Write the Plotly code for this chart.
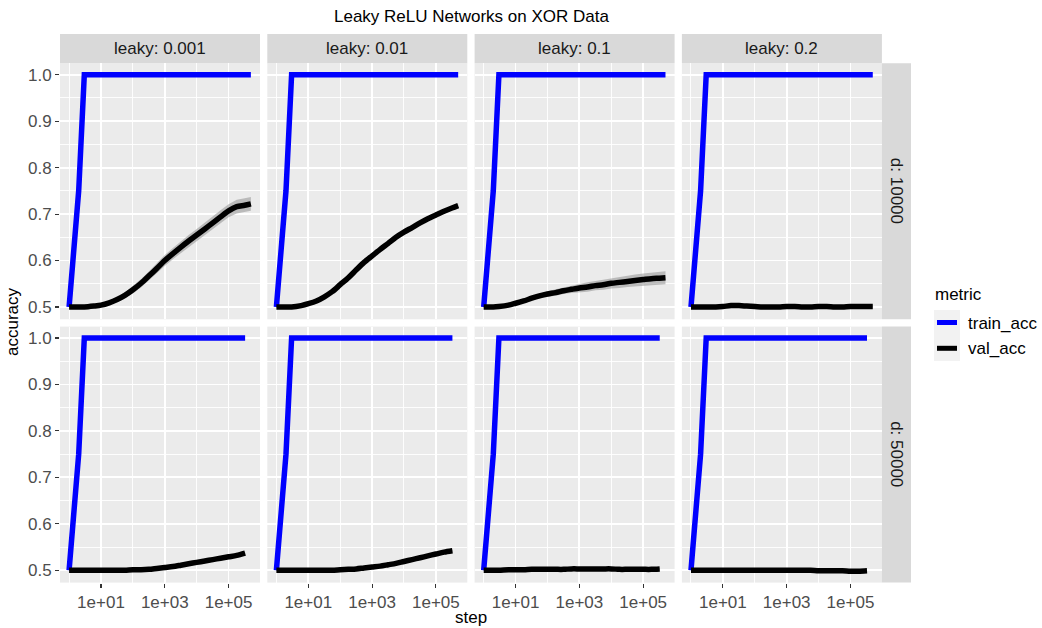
import plotly.graph_objects as go

W, H = 1042, 628

# ---------------- data ----------------
leaky_labels = ["leaky: 0.001", "leaky: 0.01", "leaky: 0.1", "leaky: 0.2"]
d_labels = ["d: 10000", "d: 50000"]
metric_labels = ["train_acc", "val_acc"]

steps_d10000 = [1, 2, 3, 6, 10, 18, 32, 56, 100, 180, 320, 560, 1000, 1800, 3200, 5600,
                10000, 18000, 32000, 56000, 100000, 180000, 320000, 500000]
steps_d50000 = [1, 2, 3, 6, 10, 18, 32, 56, 100, 180, 320, 560, 1000, 1800, 3200, 5600,
                10000, 18000, 32000, 56000, 100000, 180000, 330000]

train_acc_d10000 = [0.5, 0.75, 1.0, 1.0, 1.0, 1.0, 1.0, 1.0, 1.0, 1.0, 1.0, 1.0, 1.0,
                    1.0, 1.0, 1.0, 1.0, 1.0, 1.0, 1.0, 1.0, 1.0, 1.0, 1.0]
train_acc_d50000 = [0.5, 0.75, 1.0, 1.0, 1.0, 1.0, 1.0, 1.0, 1.0, 1.0, 1.0, 1.0, 1.0,
                    1.0, 1.0, 1.0, 1.0, 1.0, 1.0, 1.0, 1.0, 1.0, 1.0]

val_d10000_l0001 = [0.500, 0.500, 0.500, 0.502, 0.504, 0.509, 0.516, 0.525, 0.537, 0.551,
                    0.567, 0.583, 0.600, 0.615, 0.629, 0.642, 0.655, 0.668, 0.681, 0.694,
                    0.707, 0.716, 0.719, 0.722]
val_d10000_l001 = [0.500, 0.500, 0.500, 0.503, 0.507, 0.513, 0.522, 0.533, 0.548, 0.563,
                   0.580, 0.596, 0.610, 0.624, 0.637, 0.650, 0.661, 0.671, 0.681, 0.690,
                   0.698, 0.706, 0.713, 0.718]
val_d10000_l01 = [0.500, 0.500, 0.501, 0.504, 0.508, 0.513, 0.519, 0.524, 0.528, 0.531,
                  0.535, 0.538, 0.541, 0.543, 0.546, 0.548, 0.551, 0.553, 0.555, 0.557,
                  0.559, 0.561, 0.562, 0.563]
val_d10000_l02 = [0.500, 0.500, 0.500, 0.500, 0.501, 0.503, 0.503, 0.502, 0.501, 0.500,
                  0.500, 0.500, 0.501, 0.501, 0.500, 0.500, 0.501, 0.501, 0.500, 0.500,
                  0.501, 0.501, 0.501, 0.501]
val_d50000_l0001 = [0.500, 0.500, 0.500, 0.500, 0.500, 0.500, 0.500, 0.500, 0.501, 0.501,
                    0.502, 0.504, 0.506, 0.508, 0.511, 0.514, 0.517, 0.520, 0.523, 0.526,
                    0.529, 0.532, 0.537]
val_d50000_l001 = [0.500, 0.500, 0.500, 0.500, 0.500, 0.500, 0.500, 0.500, 0.501, 0.502,
                   0.503, 0.505, 0.507, 0.509, 0.512, 0.515, 0.519, 0.523, 0.527, 0.531,
                   0.535, 0.539, 0.542]
val_d50000_l01 = [0.500, 0.500, 0.500, 0.501, 0.501, 0.501, 0.502, 0.502, 0.502, 0.502,
                  0.502, 0.503, 0.503, 0.503, 0.503, 0.503, 0.503, 0.502, 0.502, 0.502,
                  0.502, 0.502, 0.503]
val_d50000_l02 = [0.500, 0.500, 0.500, 0.500, 0.500, 0.500, 0.500, 0.500, 0.500, 0.500,
                  0.500, 0.500, 0.500, 0.500, 0.500, 0.500, 0.499, 0.499, 0.499, 0.499,
                  0.498, 0.498, 0.499]

sd_d10000_l0001 = [0.002, 0.002, 0.002, 0.002, 0.003, 0.004, 0.005, 0.006, 0.008, 0.009,
                   0.010, 0.011, 0.012, 0.012, 0.013, 0.013, 0.013, 0.013, 0.014, 0.014,
                   0.014, 0.015, 0.015, 0.015]
sd_d10000_l001 = [0.002, 0.002, 0.002, 0.002, 0.002, 0.002, 0.003, 0.003, 0.003, 0.003,
                  0.004, 0.004, 0.004, 0.004, 0.004, 0.004, 0.005, 0.005, 0.005, 0.005,
                  0.005, 0.005, 0.005, 0.005]
sd_d10000_l01 = [0.002, 0.002, 0.002, 0.002, 0.003, 0.004, 0.004, 0.005, 0.006, 0.007,
                 0.007, 0.008, 0.009, 0.010, 0.010, 0.011, 0.011, 0.012, 0.012, 0.013,
                 0.013, 0.013, 0.014, 0.014]
sd_d10000_l02 = [0.002, 0.002, 0.002, 0.002, 0.002, 0.002, 0.002, 0.002, 0.002, 0.002,
                 0.002, 0.002, 0.002, 0.002, 0.002, 0.002, 0.002, 0.002, 0.002, 0.002,
                 0.002, 0.002, 0.002, 0.002]
sd_d50000_l0001 = [0.002, 0.002, 0.002, 0.002, 0.002, 0.002, 0.002, 0.002, 0.002, 0.002,
                   0.002, 0.002, 0.002, 0.002, 0.002, 0.002, 0.002, 0.002, 0.002, 0.002,
                   0.002, 0.002, 0.002]
sd_d50000_l001 = [0.002, 0.002, 0.002, 0.002, 0.002, 0.002, 0.002, 0.002, 0.002, 0.002,
                  0.002, 0.002, 0.002, 0.002, 0.002, 0.002, 0.002, 0.002, 0.002, 0.002,
                  0.002, 0.002, 0.002]
sd_d50000_l01 = [0.002, 0.002, 0.002, 0.002, 0.002, 0.002, 0.002, 0.002, 0.002, 0.002,
                 0.002, 0.002, 0.002, 0.002, 0.002, 0.002, 0.002, 0.002, 0.002, 0.002,
                 0.002, 0.002, 0.002]
sd_d50000_l02 = [0.002, 0.002, 0.002, 0.002, 0.002, 0.002, 0.002, 0.002, 0.002, 0.002,
                 0.002, 0.002, 0.002, 0.002, 0.002, 0.002, 0.002, 0.002, 0.002, 0.002,
                 0.002, 0.002, 0.002]

val_rows = [
    [val_d10000_l0001, val_d10000_l001, val_d10000_l01, val_d10000_l02],
    [val_d50000_l0001, val_d50000_l001, val_d50000_l01, val_d50000_l02],
]
sd_rows = [
    [sd_d10000_l0001, sd_d10000_l001, sd_d10000_l01, sd_d10000_l02],
    [sd_d50000_l0001, sd_d50000_l001, sd_d50000_l01, sd_d50000_l02],
]
steps_rows = [steps_d10000, steps_d50000]
train_rows = [train_acc_d10000, train_acc_d50000]

x_breaks = [10, 1000, 100000]
x_labels = ["1e+01", "1e+03", "1e+05"]
x_minor = [1, 100, 10000]
y_breaks = [0.5, 0.6, 0.7, 0.8, 0.9, 1.0]
y_labels = ["0.5", "0.6", "0.7", "0.8", "0.9", "1.0"]
y_minor = [0.55, 0.65, 0.75, 0.85, 0.95]

# ---------------- layout geometry (pixels) ----------------
col_px = [(60, 260), (267.3, 467.3), (474.6, 674.6), (681.9, 881.9)]
row_px = [(63.3, 319.3), (326.6, 582.6)]
strip_top = (34, 63.3)
strip_right = (881.9, 911)

FONT = "Liberation Sans, Arial, Helvetica, sans-serif"
FS = 17
BLUE = "#0000FF"

fig = go.Figure()
layout = dict(
    width=W, height=H,
    margin=dict(l=0, r=0, t=0, b=0),
    paper_bgcolor="white",
    plot_bgcolor="#EBEBEB",
    showlegend=False,
    font=dict(family=FONT, size=FS, color="black"),
)

shapes = []
annotations = []

for r in range(2):
    for c in range(4):
        k = r * 4 + c + 1
        xs = "x" if k == 1 else f"x{k}"
        ys = "y" if k == 1 else f"y{k}"
        steps = steps_rows[r]
        val = val_rows[r][c]
        sd = sd_rows[r][c]
        upper = [v + s for v, s in zip(val, sd)]
        lower = [v - s for v, s in zip(val, sd)]
        fig.add_trace(go.Scatter(
            x=steps + steps[::-1], y=upper + lower[::-1],
            fill="toself", fillcolor="rgba(153,153,153,0.6)",
            line=dict(width=0), mode="lines", hoverinfo="skip",
            xaxis=xs, yaxis=ys))
        fig.add_trace(go.Scatter(
            x=steps, y=train_rows[r], mode="lines", name=metric_labels[0],
            line=dict(color=BLUE, width=5.5), xaxis=xs, yaxis=ys))
        fig.add_trace(go.Scatter(
            x=steps, y=val, mode="lines", name=metric_labels[1],
            line=dict(color="black", width=5.5, shape="spline", smoothing=0.8),
            xaxis=xs, yaxis=ys))

        x0, x1 = col_px[c]
        y0, y1 = row_px[r]
        xname = "xaxis" if k == 1 else f"xaxis{k}"
        yname = "yaxis" if k == 1 else f"yaxis{k}"
        layout[xname] = dict(
            type="log", range=[-0.285, 5.985],
            domain=[x0 / W, x1 / W], anchor=ys,
            tickmode="array", tickvals=x_breaks, ticktext=x_labels,
            showticklabels=(r == 1),
            ticks="outside" if r == 1 else "", ticklen=4, tickwidth=1.1,
            tickcolor="#333333",
            tickfont=dict(family=FONT, size=FS, color="#4D4D4D"),
            showgrid=True, gridcolor="white", gridwidth=1.8,
            minor=dict(tickmode="array", tickvals=x_minor, showgrid=True,
                       gridcolor="white", gridwidth=0.9, ticks=""),
            zeroline=False, showline=False, fixedrange=True,
        )
        layout[yname] = dict(
            range=[0.4735, 1.0245],
            domain=[1 - y1 / H, 1 - y0 / H], anchor=xs,
            tickmode="array", tickvals=y_breaks, ticktext=y_labels,
            showticklabels=(c == 0),
            ticks="outside" if c == 0 else "", ticklen=4, tickwidth=1.1,
            tickcolor="#333333",
            tickfont=dict(family=FONT, size=FS, color="#4D4D4D"),
            showgrid=True, gridcolor="white", gridwidth=1.8,
            minor=dict(tickmode="array", tickvals=y_minor, showgrid=True,
                       gridcolor="white", gridwidth=0.9, ticks=""),
            zeroline=False, showline=False, fixedrange=True,
        )

# top strips
for c in range(4):
    x0, x1 = col_px[c]
    shapes.append(dict(type="rect", xref="paper", yref="paper",
                       x0=x0 / W, x1=x1 / W, y0=1 - strip_top[1] / H, y1=1 - strip_top[0] / H,
                       fillcolor="#D9D9D9", line=dict(width=0), layer="below"))
    annotations.append(dict(text=leaky_labels[c], xref="paper", yref="paper",
                            x=(x0 + x1) / 2 / W, y=1 - (strip_top[0] + strip_top[1]) / 2 / H,
                            xanchor="center", yanchor="middle", showarrow=False,
                            font=dict(family=FONT, size=FS, color="#1A1A1A")))
# right strips
for r in range(2):
    y0, y1 = row_px[r]
    shapes.append(dict(type="rect", xref="paper", yref="paper",
                       x0=strip_right[0] / W, x1=strip_right[1] / W, y0=1 - y1 / H, y1=1 - y0 / H,
                       fillcolor="#D9D9D9", line=dict(width=0), layer="below"))
    annotations.append(dict(text=d_labels[r], xref="paper", yref="paper",
                            x=(strip_right[0] + strip_right[1]) / 2 / W, y=1 - (y0 + y1) / 2 / H,
                            xanchor="center", yanchor="middle", showarrow=False, textangle=90,
                            font=dict(family=FONT, size=FS, color="#1A1A1A")))

# title and axis titles
annotations.append(dict(text="Leaky ReLU Networks on XOR Data", xref="paper", yref="paper",
                        x=471 / W, y=1 - 16.5 / H, xanchor="center", yanchor="middle",
                        showarrow=False, font=dict(family=FONT, size=FS, color="black")))
annotations.append(dict(text="step", xref="paper", yref="paper",
                        x=471 / W, y=1 - 617 / H, xanchor="center", yanchor="middle",
                        showarrow=False, font=dict(family=FONT, size=FS, color="black")))
annotations.append(dict(text="accuracy", xref="paper", yref="paper",
                        x=12 / W, y=1 - 322 / H, xanchor="center", yanchor="middle",
                        textangle=-90, showarrow=False,
                        font=dict(family=FONT, size=FS, color="black")))

# legend (ggplot-style)
annotations.append(dict(text="metric", xref="paper", yref="paper",
                        x=933 / W, y=1 - 294 / H, xanchor="left", yanchor="middle",
                        showarrow=False, font=dict(family=FONT, size=FS, color="black")))
shapes.append(dict(type="rect", xref="paper", yref="paper",
                   x0=934 / W, x1=960 / W, y0=1 - 361 / H, y1=1 - 310 / H,
                   fillcolor="#F2F2F2", line=dict(width=0)))
legend_colors = [BLUE, "black"]
legend_y = [322.5, 348.3]
for i in range(2):
    shapes.append(dict(type="line", xref="paper", yref="paper",
                       x0=937 / W, x1=957 / W, y0=1 - legend_y[i] / H, y1=1 - legend_y[i] / H,
                       line=dict(color=legend_colors[i], width=5)))
    annotations.append(dict(text=metric_labels[i], xref="paper", yref="paper",
                            x=966 / W, y=1 - (legend_y[i] + 0.5) / H, xanchor="left", yanchor="middle",
                            showarrow=False, font=dict(family=FONT, size=FS, color="black")))

layout["shapes"] = shapes
layout["annotations"] = annotations
fig.update_layout(**layout)

fig.write_html(
    "out.html",
    config={"displayModeBar": False, "staticPlot": True},
    post_script="document.body.style.margin='0px';document.body.style.overflow='hidden';",
)
